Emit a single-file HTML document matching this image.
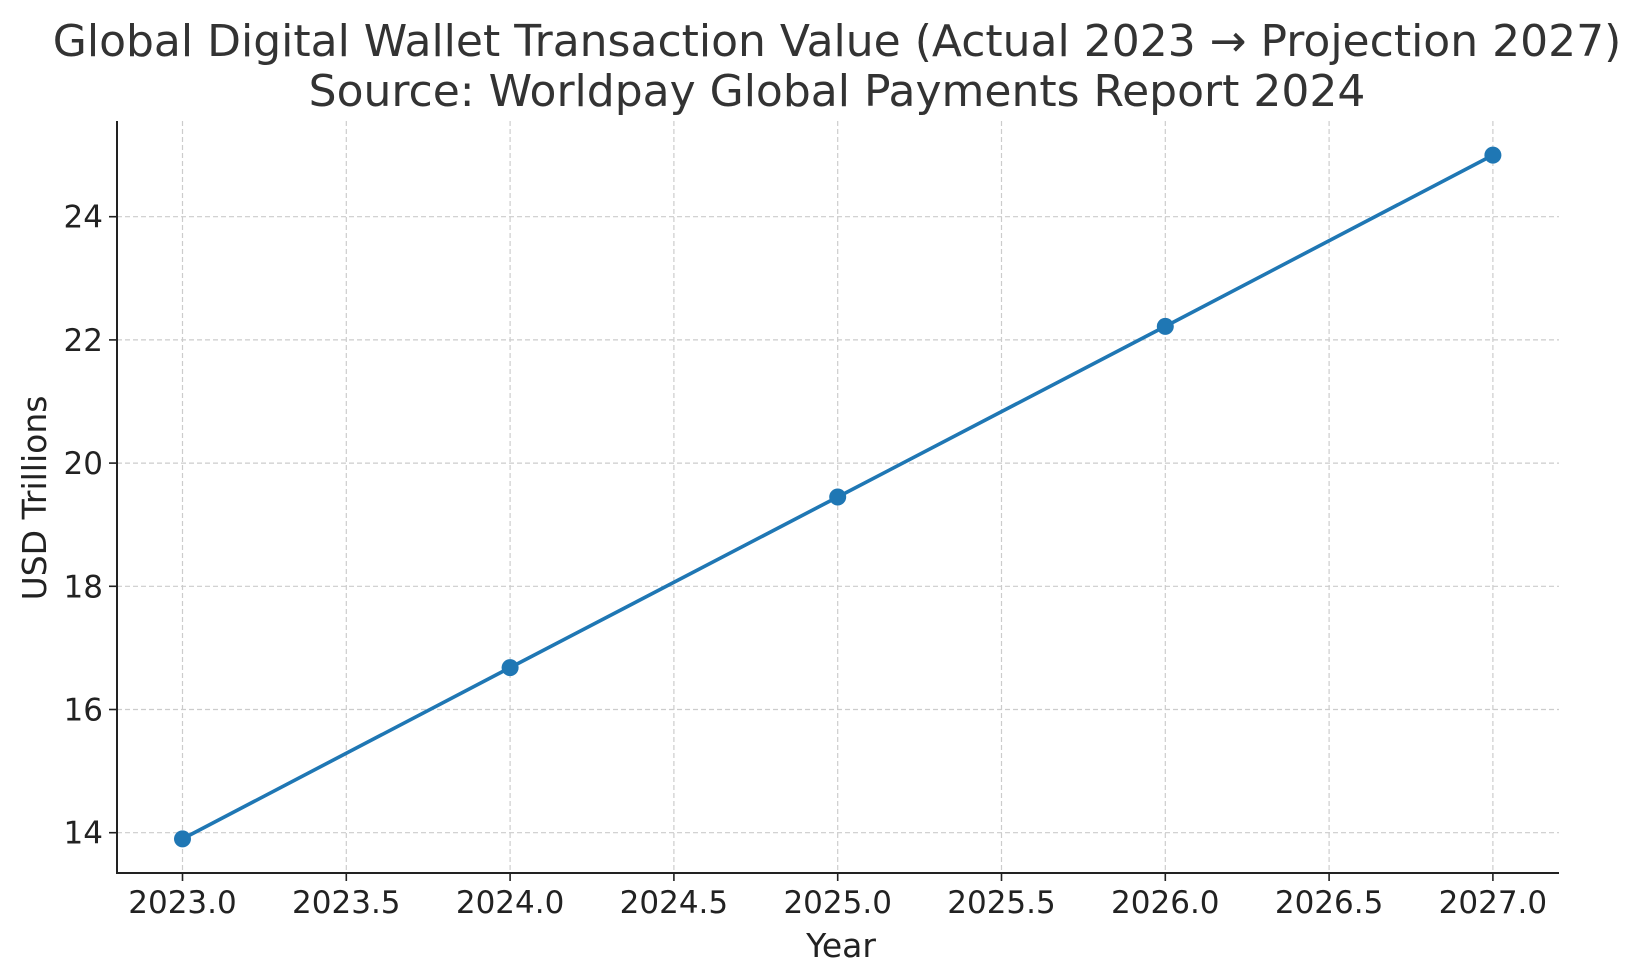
<!DOCTYPE html>
<html><head><meta charset="utf-8"><style>
html,body{margin:0;padding:0;background:#fff;}
svg{display:block;font-family:"DejaVu Sans","Liberation Sans",sans-serif;}
</style></head><body>
<svg id="chart" width="1650" height="980" viewBox="0 0 1650 980">
<text x="837" y="56" text-anchor="middle" font-size="44" fill="#333">Global Digital Wallet Transaction Value (Actual 2023 → Projection 2027)</text>
<text x="837" y="106" text-anchor="middle" font-size="44" fill="#333">Source: Worldpay Global Payments Report 2024</text>
<g id="grid"></g><g id="axes"></g><g id="series"></g>
<text x="841" y="957" text-anchor="middle" font-size="33" fill="#222">Year</text>
<text transform="translate(46,498) rotate(-90)" text-anchor="middle" font-size="33" fill="#222">USD Trillions</text>
</svg>
<script>
const years = [2023, 2024, 2025, 2026, 2027];
const values = [13.9, 16.68, 19.45, 22.22, 25.0];
const xTicks = [2023.0, 2023.5, 2024.0, 2024.5, 2025.0, 2025.5, 2026.0, 2026.5, 2027.0];
const yTicks = [14, 16, 18, 20, 22, 24];

const L=117, R=1559, T=121, B=873;
function xs(v){return 182.5+(v-2023)*327.6;}
function ys(v){return 832.7-(v-14)*61.6;}
const NS="http://www.w3.org/2000/svg";
function mk(tag,attrs,parent){const e=document.createElementNS(NS,tag);for(const k in attrs)e.setAttribute(k,attrs[k]);parent.appendChild(e);return e;}
const grid=document.getElementById('grid'),axes=document.getElementById('axes'),series=document.getElementById('series');
xTicks.forEach(t=>{
  const g=mk('line',{x1:xs(t),x2:xs(t),y1:T,y2:B,stroke:'#ccc','stroke-width':1.2,'stroke-dasharray':'5,3'},grid);
  
  
  const tk=mk('line',{x1:xs(t),x2:xs(t),y1:B,y2:B+8,stroke:'#222','stroke-width':1.6},axes);
  
  
  const tx=mk('text',{x:xs(t),y:B+40,'text-anchor':'middle','font-size':31,fill:'#222'},axes);
  tx.textContent=t.toFixed(1);
  
  
});
yTicks.forEach(t=>{
  const g=mk('line',{x1:L,x2:R,y1:ys(t),y2:ys(t),stroke:'#ccc','stroke-width':1.2,'stroke-dasharray':'5,3'},grid);
  
  
  const tk=mk('line',{x1:L-8,x2:L,y1:ys(t),y2:ys(t),stroke:'#222','stroke-width':1.6},axes);
  
  
  const tx=mk('text',{x:L-14,y:ys(t)+11,'text-anchor':'end','font-size':31,fill:'#222'},axes);
  tx.textContent=t;
  
  
});
const ax=mk('path',{d:`M${L},${T}V${B}H${R}`,fill:'none',stroke:'#222','stroke-width':2},axes);


const line=mk('polyline',{points:years.map((y,i)=>xs(y)+','+ys(values[i])).join(' '),fill:'none',stroke:'#1f77b4','stroke-width':3.6},series);


years.forEach((y,i)=>{
  const c=mk('circle',{cx:xs(y),cy:ys(values[i]),r:8.5,fill:'#1f77b4'},series);
  
  
});
</script>
</body></html>
